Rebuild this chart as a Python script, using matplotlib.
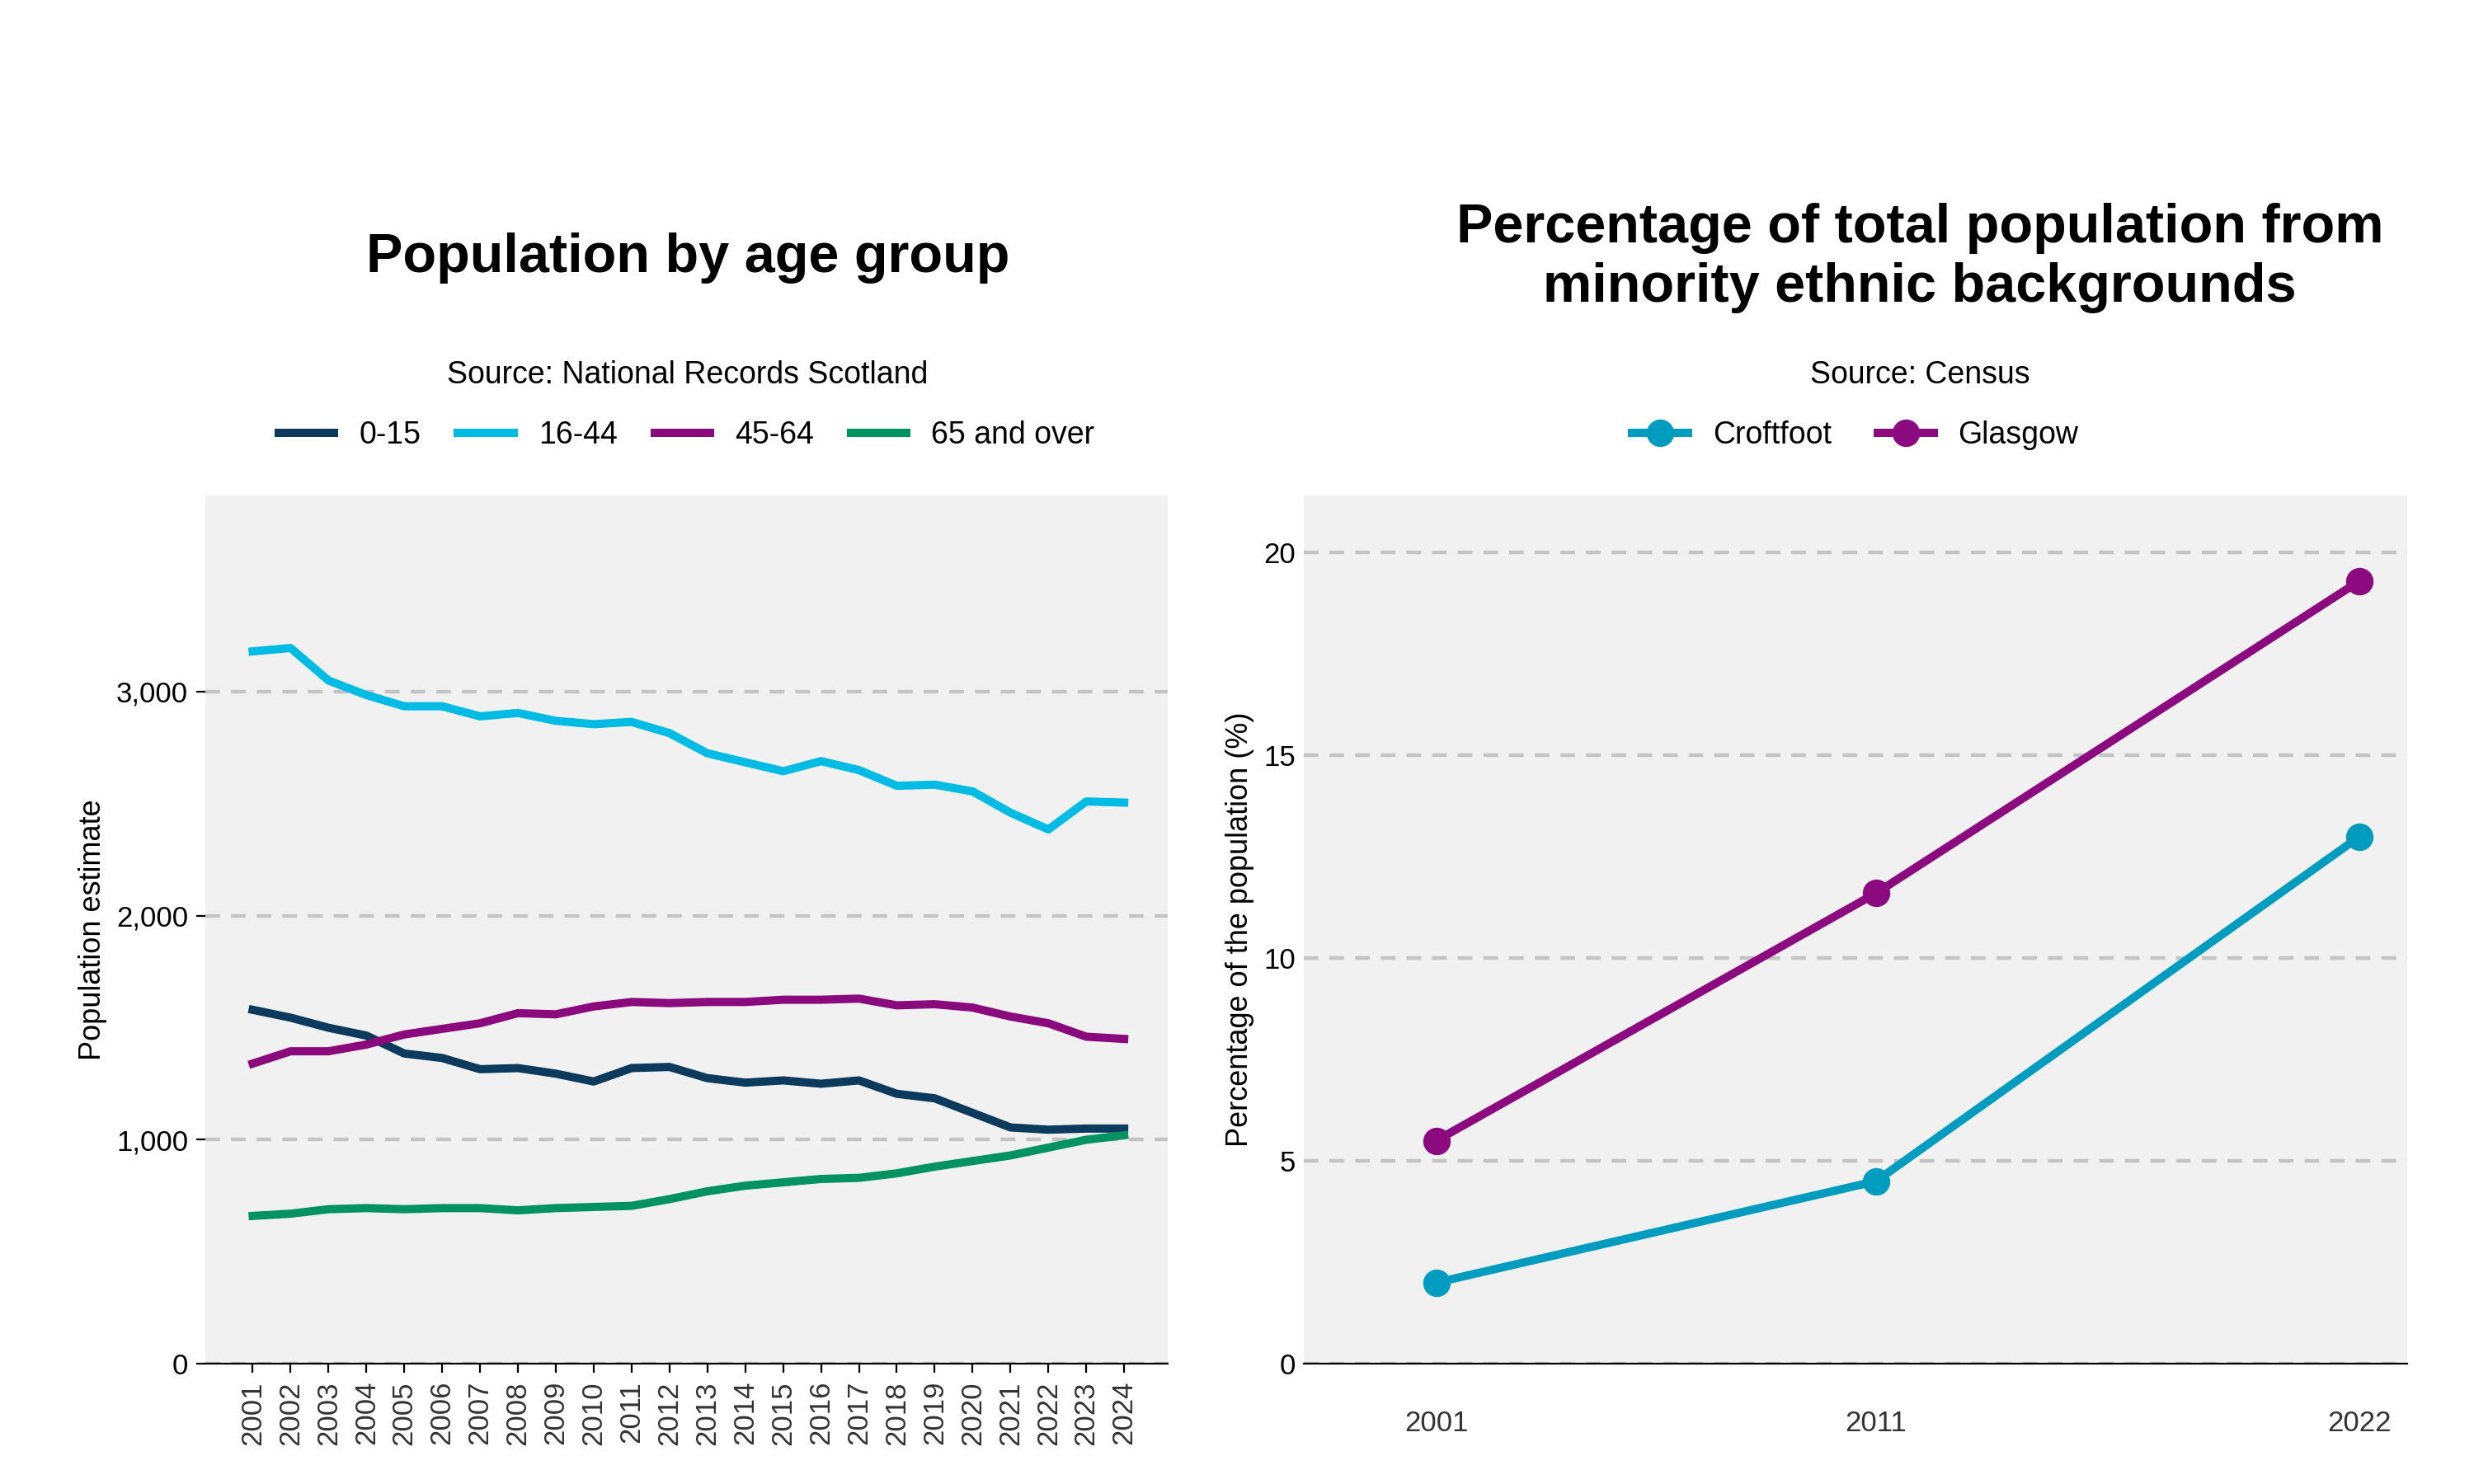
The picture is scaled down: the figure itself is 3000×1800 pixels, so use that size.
import matplotlib
matplotlib.use("Agg")
import matplotlib.pyplot as plt
from matplotlib.ticker import FuncFormatter

years = list(range(2001, 2025))
age_0_15 = [1580,1545,1500,1465,1385,1365,1315,1320,1295,1260,1320,1325,1275,1255,1265,1250,1265,1205,1185,1120,1055,1045,1050,1050]
age_16_44 = [3180,3195,3050,2985,2935,2935,2890,2905,2870,2855,2865,2815,2725,2685,2645,2690,2650,2580,2585,2555,2460,2385,2510,2505]
age_45_64 = [1340,1395,1395,1425,1470,1495,1520,1565,1560,1595,1615,1610,1615,1615,1625,1625,1630,1600,1605,1590,1550,1520,1460,1450]
age_65 = [660,670,690,695,690,695,695,685,695,700,705,735,770,795,810,825,830,850,880,905,930,965,1000,1020]
age_series = {"0-15": age_0_15, "16-44": age_16_44, "45-64": age_45_64, "65 and over": age_65}
age_colors = ["#0b3a5c", "#00bce4", "#8a0a7e", "#009260"]

census_years = [2001, 2011, 2022]
croftfoot = [2.0, 4.5, 13.0]
glasgow = [5.5, 11.6, 19.3]

plt.rcParams['font.family'] = ['Liberation Sans', 'DejaVu Sans']
fig = plt.figure(figsize=(15, 9), dpi=200)
bg = "#f1f1f1"

ax1 = fig.add_axes([0.083, 0.081, 0.389, 0.585])
ax1.set_facecolor(bg)
for (name, vals), c in zip(age_series.items(), age_colors):
    ax1.plot(years, vals, color=c, lw=3.6, label=name)
ax1.set_ylim(0, 3875)
ax1.set_xlim(1999.75, 2025.15)
ax1.set_yticks([0, 1000, 2000, 3000])
ax1.yaxis.set_major_formatter(FuncFormatter(lambda v, p: f"{int(v):,}"))
ax1.set_xticks(years)
ax1.set_xticklabels([str(y) for y in years], rotation=90)
ax1.set_ylabel("Population estimate", fontsize=13)
ax1.grid(axis='y', color='#c4c4c4', ls=(0, (4, 3)), lw=1.6)
ax1.set_axisbelow(True)
for s in ['top', 'right', 'left']:
    ax1.spines[s].set_visible(False)
ax1.tick_params(labelsize=12.5, length=4)
ax1.tick_params(axis='x', labelcolor='#333333')
ax1.legend(loc='lower center', bbox_to_anchor=(0.5, 1.02), ncol=4, frameon=False,
           fontsize=13.5, handlelength=1.8, columnspacing=1.2)
fig.text(0.278, 0.826, "Population by age group", ha='center', va='center', fontsize=24, fontweight='bold')
fig.text(0.278, 0.747, "Source: National Records Scotland", ha='center', va='center', fontsize=13.5)

ax2 = fig.add_axes([0.527, 0.081, 0.446, 0.585])
ax2.set_facecolor(bg)
ax2.plot(census_years, croftfoot, color="#009cc0", lw=3.6, marker='o', ms=11, label="Croftfoot")
ax2.plot(census_years, glasgow, color="#8b0a80", lw=3.6, marker='o', ms=11, label="Glasgow")
ax2.set_ylim(0, 21.4)
ax2.set_xlim(1997.99, 2023.08)
ax2.set_yticks([0, 5, 10, 15, 20])
ax2.set_xticks(census_years)
ax2.set_ylabel("Percentage of the population (%)", fontsize=13)
ax2.grid(axis='y', color='#c4c4c4', ls=(0, (4, 3)), lw=1.6)
ax2.set_axisbelow(True)
for s in ['top', 'right', 'left']:
    ax2.spines[s].set_visible(False)
ax2.tick_params(labelsize=12.5, length=0)
ax2.tick_params(axis='x', labelcolor='#333333', pad=20)
ax2.legend(loc='lower center', bbox_to_anchor=(0.5, 1.02), ncol=2, frameon=False,
           fontsize=13.5, handlelength=1.8, columnspacing=1.5)
fig.text(0.776, 0.826, "Percentage of total population from\nminority ethnic backgrounds",
         ha='center', va='center', fontsize=24, fontweight='bold', linespacing=1.2)
fig.text(0.776, 0.747, "Source: Census", ha='center', va='center', fontsize=13.5)

fig.savefig("out.png", dpi=200, facecolor='white')
